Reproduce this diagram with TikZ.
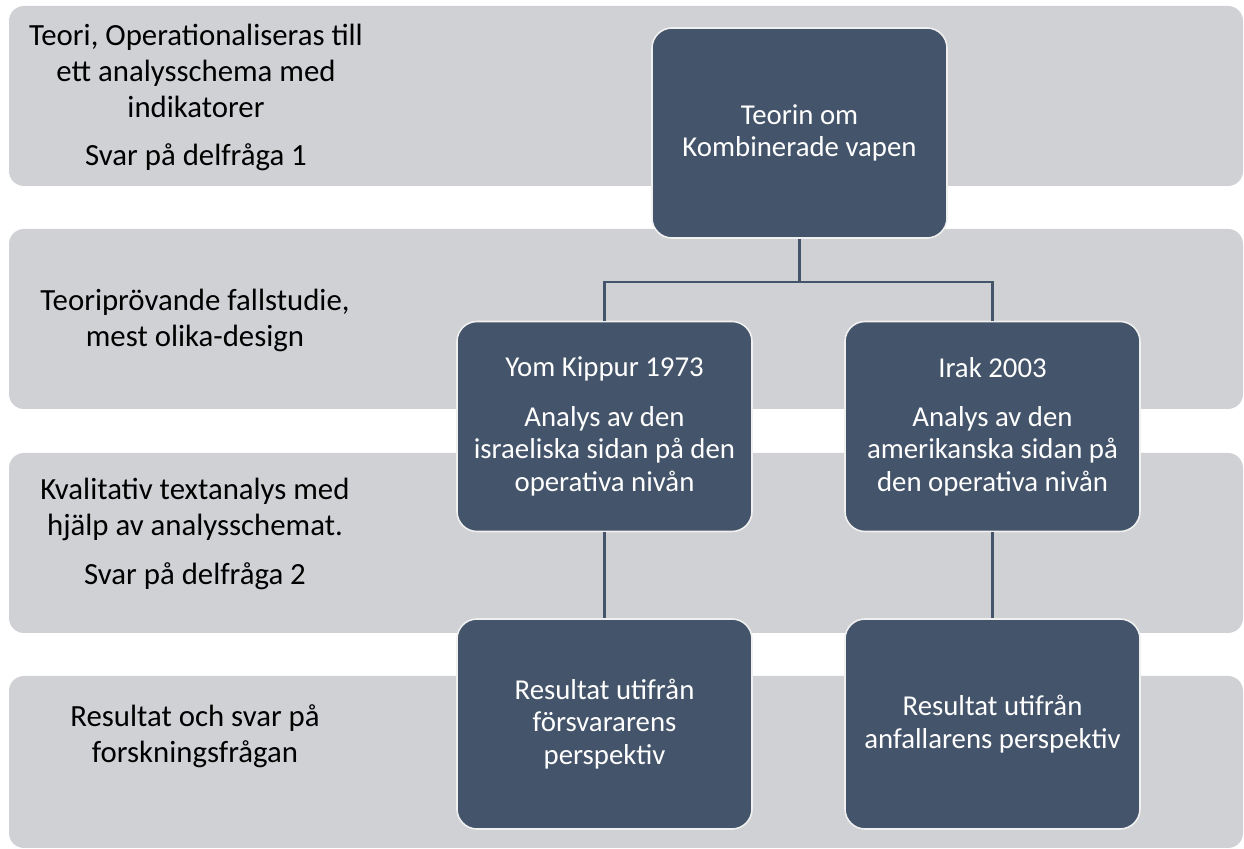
\documentclass[tikz,border=0pt]{standalone}
\usepackage{fontspec}
\setmainfont{Carlito}
\usetikzlibrary{positioning}

\definecolor{bandgray}{HTML}{D0D1D5}
\definecolor{boxblue}{HTML}{44546A}

\tikzset{
  band/.style={fill=bandgray, rounded corners=7.5pt},
  stepbox/.style={draw=white!88!gray, line width=0.8pt, fill=boxblue, rounded corners=10pt,
    minimum width=147.5pt, minimum height=105pt, text=white, align=center,
    font=\fontsize{14.4}{16.2}\selectfont},
  bandtext/.style={align=center, text=black, font=\fontsize{15.4}{18}\selectfont},
  link/.style={draw=boxblue, line width=1.1pt}
}

\begin{document}
\begin{tikzpicture}[x=0.5pt, y=-0.5pt]
\useasboundingbox (0,0) rectangle (1244,849);
% bands
\foreach \top/\bot in {6/186, 229/409, 453/633, 676/848}
  \fill[band] (9,\top) rectangle (1243,\bot);

% left labels
\node[bandtext] (theory) at (196,97) {Teori, Operationaliseras till\\ett analysschema med\\indikatorer\\[6pt]Svar på delfråga 1};
\node[bandtext] (design) at (195,320) {Teoriprövande fallstudie,\\mest olika-design};
\node[bandtext] (method) at (195,534) {Kvalitativ textanalys med\\hjälp av analysschemat.\\[6.5pt]Svar på delfråga 2};
\node[bandtext] (result) at (195,736) {Resultat och svar på\\forskningsfrågan};

% boxes
\node[stepbox] (teorin) at (799.5,133) {Teorin om\\Kombinerade vapen};
\node[stepbox] (yom) at (604.5,426.5) {Yom Kippur 1973\\[8.5pt]Analys av den\\israeliska sidan på den\\operativa nivån};
\node[stepbox] (irak) at (992.5,426.5) {Irak 2003\\[8.5pt]Analys av den\\amerikanska sidan på\\den operativa nivån};
\node[stepbox] (forsvar) at (604.5,724) {Resultat utifrån\\försvararens\\perspektiv};
\node[stepbox] (anfall) at (992.5,724) {Resultat utifrån\\anfallarens perspektiv};

% connectors
\draw[link] (teorin.south) -- ++(0,43) coordinate (fork);
\draw[link] (fork) -| (yom.north);
\draw[link] (fork) -| (irak.north);
\draw[link] (yom) -- (forsvar);
\draw[link] (irak) -- (anfall);
\end{tikzpicture}
\end{document}
